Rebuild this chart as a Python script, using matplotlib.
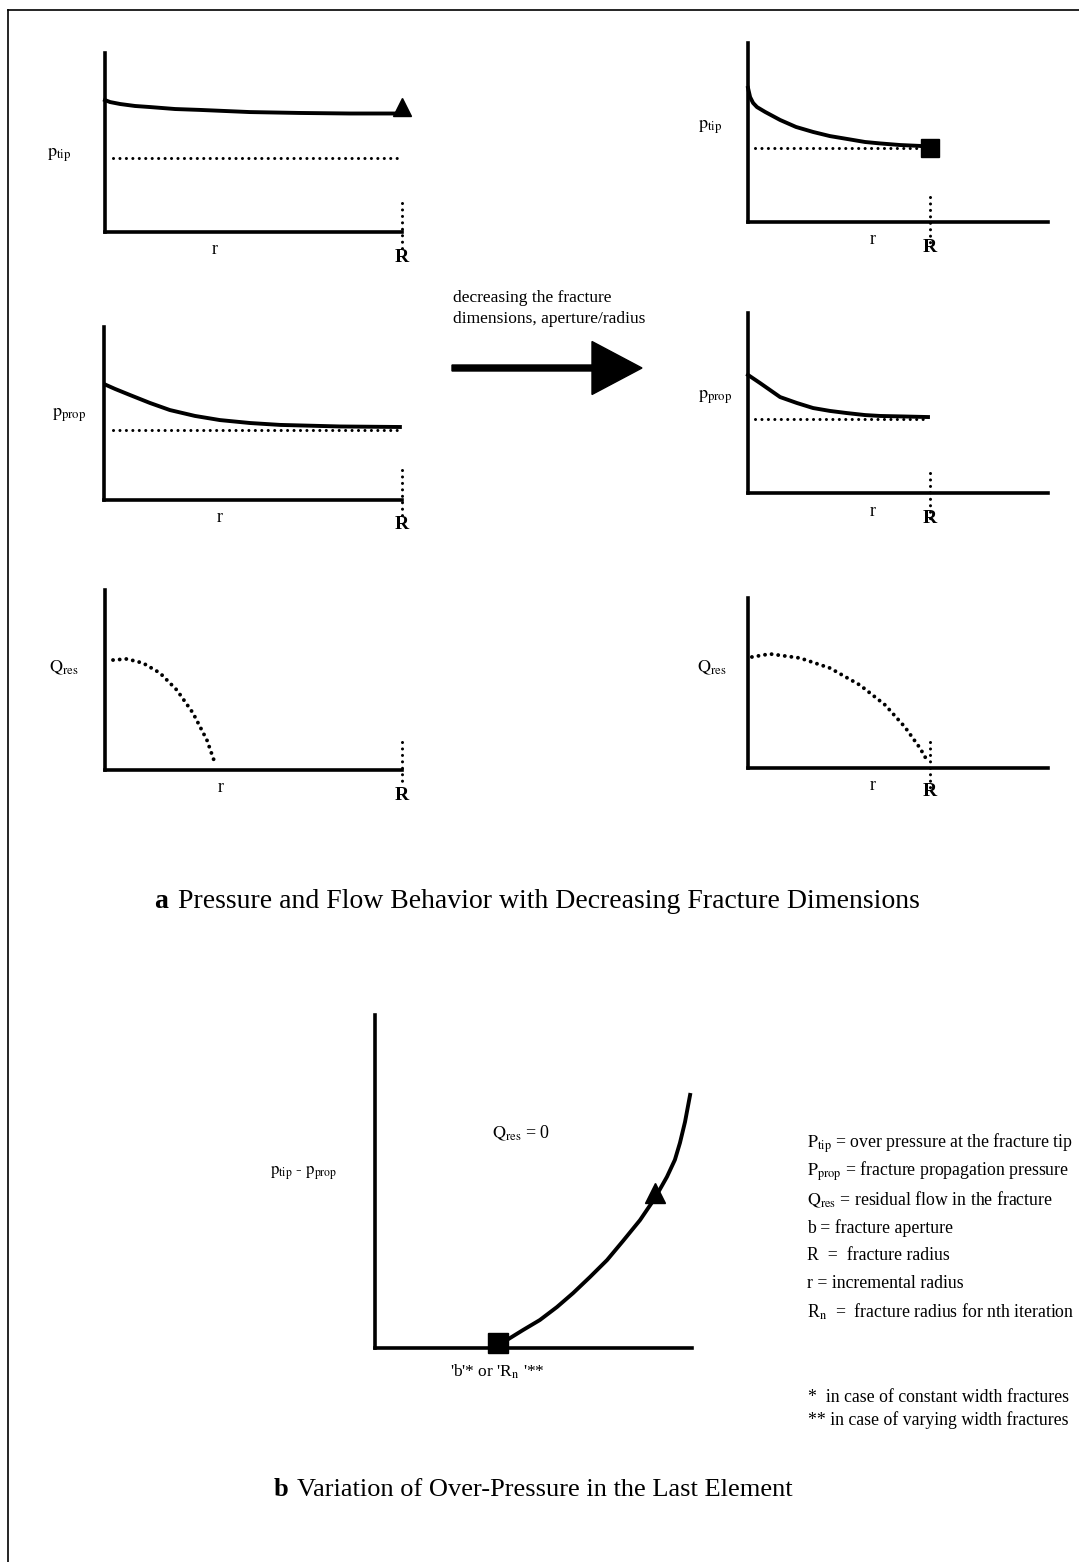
import numpy as np
import matplotlib.pyplot as plt
from matplotlib.patches import FancyArrow

plt.rcParams['font.family'] = ['Liberation Serif', 'DejaVu Serif']
plt.rcParams['mathtext.fontset'] = 'stix'

W, H = 1079, 1562

# fracture radius before / after shrinking (r scaled so the axis runs 0..1)
R_big = 1.0
R_small = 0.607

# tip pressure along r
tip1_r = [0.0, 0.017, 0.051, 0.101, 0.152, 0.236, 0.32, 0.488, 0.657, 0.825, 0.983]
tip1_p = [0.737, 0.726, 0.715, 0.704, 0.698, 0.687, 0.682, 0.670, 0.665, 0.662, 0.662]
tip1_ref = 0.413
tip2_r = [0.0, 0.007, 0.017, 0.03, 0.057, 0.107, 0.16, 0.217, 0.273, 0.33, 0.39,
          0.44, 0.507, 0.573, 0.6]
tip2_p = [0.749, 0.698, 0.665, 0.642, 0.615, 0.570, 0.531, 0.503, 0.480, 0.464, 0.447,
          0.439, 0.430, 0.425, 0.419]
tip2_ref = 0.413

# propagation pressure along r
prop1_r = [0.007, 0.037, 0.087, 0.154, 0.221, 0.305, 0.389, 0.49, 0.591, 0.792, 0.993]
prop1_p = [0.665, 0.642, 0.607, 0.561, 0.520, 0.486, 0.462, 0.445, 0.434, 0.425, 0.422]
prop1_ref = 0.405
prop2_r = [0.0, 0.04, 0.107, 0.163, 0.217, 0.273, 0.33, 0.39, 0.44, 0.523, 0.6]
prop2_p = [0.656, 0.611, 0.533, 0.5, 0.472, 0.456, 0.444, 0.433, 0.428, 0.425, 0.422]
prop2_ref = 0.411

# residual flow along r
q1_r = [0.027, 0.074, 0.128, 0.185, 0.242, 0.296, 0.343, 0.37]
q1_q = [0.611, 0.617, 0.594, 0.539, 0.444, 0.317, 0.167, 0.039]
q2_r = [0.013, 0.073, 0.173, 0.273, 0.373, 0.457, 0.523, 0.573, 0.6]
q2_q = [0.653, 0.671, 0.647, 0.588, 0.488, 0.371, 0.241, 0.118, 0.035]

# over-pressure in the last element
op_x = [0.388, 0.416, 0.467, 0.52, 0.574, 0.625, 0.678, 0.732, 0.782, 0.836, 0.883,
        0.921, 0.946, 0.962, 0.978, 0.994]
op_y = [0.009, 0.024, 0.054, 0.084, 0.123, 0.165, 0.213, 0.264, 0.321, 0.384, 0.450,
        0.514, 0.565, 0.616, 0.679, 0.760]
op_start = (0.388, 0.015)
op_tri = (0.883, 0.465)

legend_lines = [
    r'$\mathrm{P_{tip}}$ = over pressure at the fracture tip',
    r'$\mathrm{P_{prop}}$ = fracture propagation pressure',
    r'$\mathrm{Q_{res}}$ = residual flow in the fracture',
    'b = fracture aperture',
    'R  =  fracture radius',
    'r = incremental radius',
    r'R$_\mathrm{n}$  =  fracture radius for nth iteration',
]
notes = ['*  in case of constant width fractures',
         '** in case of varying width fractures']

DOT = dict(ls=(0, (0.01, 2.1)), lw=2.2, dash_capstyle='round', color='k', clip_on=False)
QDOT = dict(ls=(0, (0.01, 1.7)), lw=2.8, dash_capstyle='round', color='k', clip_on=False)


def box(x0, y0, x1, y1):
    return [x0 / W, 1 - y1 / H, (x1 - x0) / W, (y1 - y0) / H]


def panel(rect):
    ax = fig.add_axes(box(*rect))
    ax.set_facecolor('none')
    ax.set_xlim(0, 1)
    ax.set_ylim(0, 1)
    for s in ['top', 'right']:
        ax.spines[s].set_visible(False)
    for s in ['left', 'bottom']:
        ax.spines[s].set_linewidth(2.6)
        ax.spines[s].set_capstyle('projecting')
    ax.set_xticks([])
    ax.set_yticks([])
    return ax


def r_marks(ax, R, rx, y0, y1):
    ax.plot([R, R], [y0, y1], **DOT)
    ax.text(R, -0.14, 'R', fontsize=14, fontweight='bold', ha='center', va='center')
    ax.text(rx, -0.1, 'r', fontsize=13, ha='center', va='center')


fig = plt.figure(figsize=(W / 100, H / 100), dpi=100)
bg = fig.add_axes([0, 0, 1, 1])
bg.set_xlim(0, W)
bg.set_ylim(H, 0)
bg.axis('off')

# page frame
bg.plot([8, W], [10, 10], color='k', lw=1.2)
bg.plot([8, 8], [10, H], color='k', lw=1.2)

# --- p_tip
ax = panel((105, 53, 402, 232))
ax.plot(tip1_r, tip1_p, color='k', lw=2.8, clip_on=False, solid_joinstyle='round')
ax.plot([0.027, 0.983], [tip1_ref, tip1_ref], **DOT)
ax.plot([R_big], [0.70], marker='^', ms=13, color='k', clip_on=False)
r_marks(ax, R_big, 0.37, 0.162, -0.10)
ax.text(-0.195, 0.43, r'$\mathrm{p_{tip}}$', fontsize=13, ha='left', va='center')

ax = panel((748, 43, 1048, 222))
ax.plot(tip2_r, tip2_p, color='k', lw=2.8, clip_on=False, solid_joinstyle='round')
ax.plot([0.023, 0.6], [tip2_ref, tip2_ref], **DOT)
ax.plot([R_small], [tip2_ref], marker='s', ms=13, color='k', clip_on=False)
r_marks(ax, R_small, 0.417, 0.14, -0.117)
ax.text(-0.167, 0.53, r'$\mathrm{p_{tip}}$', fontsize=13, ha='left', va='center')

# --- p_prop
ax = panel((104, 327, 402, 500))
ax.plot(prop1_r, prop1_p, color='k', lw=2.8, clip_on=False, solid_joinstyle='round')
ax.plot([0.03, 0.983], [prop1_ref, prop1_ref], **DOT)
r_marks(ax, R_big, 0.387, 0.173, -0.116)
ax.text(-0.175, 0.49, r'$\mathrm{p_{prop}}$', fontsize=13, ha='left', va='center')

ax = panel((748, 313, 1048, 493))
ax.plot(prop2_r, prop2_p, color='k', lw=2.8, clip_on=False, solid_joinstyle='round')
ax.plot([0.023, 0.6], [prop2_ref, prop2_ref], **DOT)
r_marks(ax, R_small, 0.417, 0.111, -0.15)
ax.text(-0.167, 0.53, r'$\mathrm{p_{prop}}$', fontsize=13, ha='left', va='center')

# --- Q_res
ax = panel((105, 590, 402, 770))
ax.plot(q1_r, q1_q, **QDOT)
r_marks(ax, R_big, 0.39, 0.156, -0.094)
ax.text(-0.19, 0.567, r'$\mathrm{Q_{res}}$', fontsize=13, ha='left', va='center')

ax = panel((748, 598, 1048, 768))
ax.plot(q2_r, q2_q, **QDOT)
r_marks(ax, R_small, 0.417, 0.153, -0.118)
ax.text(-0.17, 0.588, r'$\mathrm{Q_{res}}$', fontsize=13, ha='left', va='center')

# arrow between the two columns
bg.add_patch(FancyArrow(452, 368, 190, 0, width=6, head_width=53, head_length=50,
                        length_includes_head=True, color='k'))
bg.text(453, 298, 'decreasing the fracture', fontsize=12.5, va='center')
bg.text(453, 319, 'dimensions, aperture/radius', fontsize=12.5, va='center')

bg.text(154, 901, 'a', fontsize=20, fontweight='bold', va='center')
bg.text(178, 901, 'Pressure and Flow Behavior with Decreasing Fracture Dimensions',
        fontsize=20, va='center')

# --- over-pressure in the last element
ax = panel((375, 1015, 692, 1348))
ax.plot(op_x, op_y, color='k', lw=2.8, clip_on=False, solid_joinstyle='round')
ax.plot(*op_start, marker='s', ms=15, color='k', clip_on=False)
ax.plot(*op_tri, marker='^', ms=15, color='k', clip_on=False)
ax.text(0.37, 0.645, r'$\mathrm{Q_{res}}$ = 0', fontsize=13, ha='left', va='center')
ax.text(-0.33, 0.525, r'$\mathrm{p_{tip}}$ - $\mathrm{p_{prop}}$', fontsize=12,
        ha='left', va='center')
ax.text(0.385, -0.07, "'b'* or 'R$_\\mathrm{n}$ '**", fontsize=12.5, ha='center',
        va='center')

for i, s in enumerate(legend_lines):
    bg.text(807, 1143 + i * 28.2, s, fontsize=12.8, va='center')
for i, s in enumerate(notes):
    bg.text(808, 1397 + i * 23, s, fontsize=12.8, va='center')

bg.text(274, 1490, 'b', fontsize=19, fontweight='bold', va='center')
bg.text(297, 1490, 'Variation of Over-Pressure in the Last Element', fontsize=19,
        va='center')

fig.savefig('out.png', dpi=100)
